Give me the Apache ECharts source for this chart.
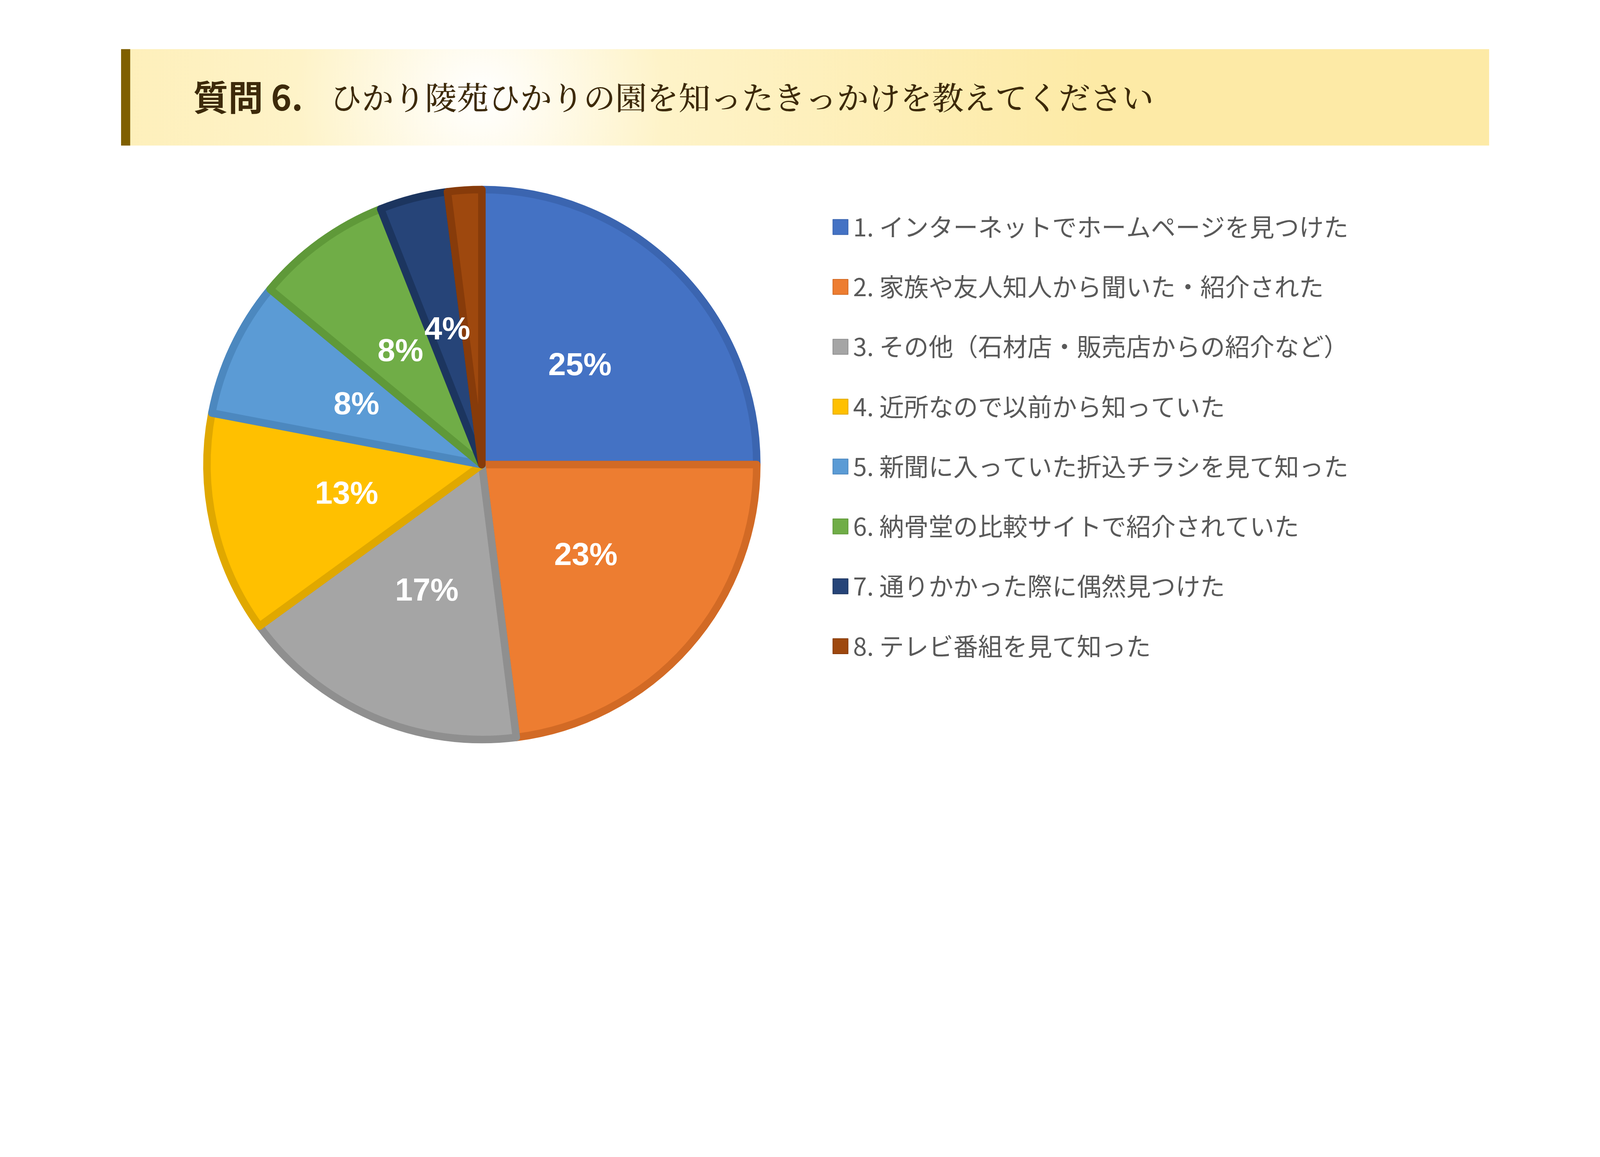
<!DOCTYPE html>
<html><head><meta charset="utf-8">
<script src="https://cdn.jsdelivr.net/npm/echarts@6/dist/echarts.min.js"></script>
<style>html,body{margin:0;padding:0;background:#fff;overflow:hidden}#c{width:100vw;height:100vh}</style>
</head><body><div id="c"></div>
<script>
const categories = [
 "1. インターネットでホームページを見つけた",
 "2. 家族や友人知人から聞いた・紹介された",
 "3. その他（石材店・販売店からの紹介など）",
 "4. 近所なので以前から知っていた",
 "5. 新聞に入っていた折込チラシを見て知った",
 "6. 納骨堂の比較サイトで紹介されていた",
 "7. 通りかかった際に偶然見つけた",
 "8. テレビ番組を見て知った"
];
const values = [25, 23, 17, 13, 8, 8, 4, 2];
const colors = ["#4472C4","#ED7D31","#A5A5A5","#FFC000","#5B9BD5","#70AD47","#264478","#9E480E"];
const borders = ["#3B65B0","#D26A25","#8F8F8F","#E0A800","#4C88BF","#5F9939","#1C355F","#873B0A"];

const W = window.innerWidth || 5960, H = window.innerHeight || 2961;
const s = Math.min(W/5960, H/2961);
const chart = echarts.init(document.getElementById('c'));
chart.setOption({
  animation:false,
  graphic:[
    {type:'rect',shape:{x:451*s,y:183*s,width:5096*s,height:359*s},
     style:{fill:new echarts.graphic.RadialGradient(1790*s,362*s,2300*s,[{offset:0,color:'#ffffff'},{offset:0.3,color:'#fef3c8'},{offset:1,color:'#fdeaa6'}],true)}},
    {type:'rect',shape:{x:451*s,y:183*s,width:34*s,height:359*s},style:{fill:'#7f5f00'}},
    {type:'text',x:720*s,y:362*s,style:{text:'質問 6.',font:'bold '+(130*s)+'px "Noto Sans CJK JP"',fill:'#3d2a0a',verticalAlign:'middle'}},
    {type:'text',x:1230*s,y:362*s,style:{text:'ひかり陵苑ひかりの園を知ったきっかけを教えてください',font:'500 '+(118*s)+'px "Noto Serif CJK JP","Noto Sans CJK JP"',fill:'#3d2a0a',verticalAlign:'middle'}}
  ],
  legend:{orient:'vertical',left:3094*s,top:792*s,itemWidth:56*s,itemHeight:56*s,itemGap:131*s,
    icon:'rect',
    textStyle:{fontSize:92*s,color:'#595959',fontFamily:'"Noto Sans CJK JP"',padding:[0,0,0,12*s]},
    data:categories},
  series:[{
    type:'pie',center:[1795*s,1730*s],radius:1024*s,startAngle:90,clockwise:true,
    label:{show:true,position:'inside',formatter:'{c}%',color:'#fff',fontSize:118*s,fontWeight:'bold',fontFamily:'"Liberation Sans",Arial'},
    labelLine:{show:false},
    data:categories.map((n,i)=>({name:n,value:values[i],
      itemStyle:{color:colors[i],borderColor:borders[i],borderWidth:28*s}}))
  }]
});
</script></body></html>
